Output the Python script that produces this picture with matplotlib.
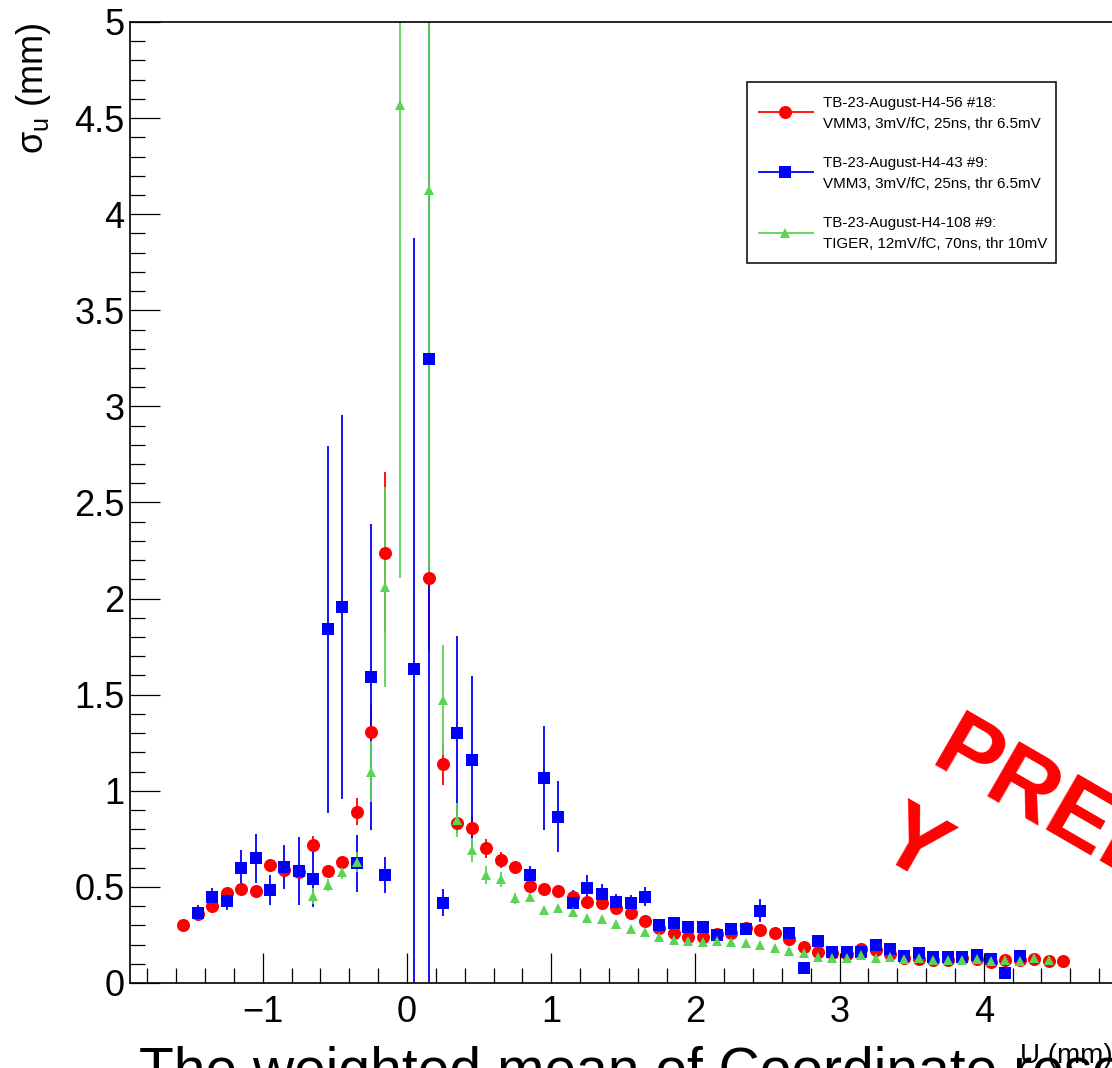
import numpy as np
import matplotlib
matplotlib.use('Agg')
import matplotlib.pyplot as plt
from matplotlib.ticker import MultipleLocator, FuncFormatter
from matplotlib.lines import Line2D
from matplotlib.patches import Rectangle

plt.rcParams['font.family'] = ['Liberation Sans', 'DejaVu Sans']
plt.rcParams['mathtext.fontset'] = 'custom'
plt.rcParams['mathtext.rm'] = 'Liberation Sans'
plt.rcParams['mathtext.it'] = 'Liberation Sans'

nan = np.nan

# bin centres of U (mm)
u_bins = [-1.55, -1.45, -1.35, -1.25, -1.15, -1.05, -0.95, -0.85, -0.75, -0.65,
          -0.55, -0.45, -0.35, -0.25, -0.15, -0.05, 0.05, 0.15, 0.25, 0.35,
          0.45, 0.55, 0.65, 0.75, 0.85, 0.95, 1.05, 1.15, 1.25, 1.35,
          1.45, 1.55, 1.65, 1.75, 1.85, 1.95, 2.05, 2.15, 2.25, 2.35,
          2.45, 2.55, 2.65, 2.75, 2.85, 2.95, 3.05, 3.15, 3.25, 3.35,
          3.45, 3.55, 3.65, 3.75, 3.85, 3.95, 4.05, 4.15, 4.25, 4.35,
          4.45, 4.55]

# TB-23-August-H4-56 #18 (VMM3)
sigma_56 = [0.302, 0.357, 0.400, 0.467, 0.487, 0.479, 0.614, 0.588, 0.579, 0.716,
            0.583, 0.628, 0.891, 1.304, 2.239, nan, nan, 2.109, 1.138, 0.834,
            0.808, 0.701, 0.640, 0.602, 0.505, 0.487, 0.479, 0.449, 0.423, 0.415,
            0.388, 0.366, 0.323, 0.288, 0.262, 0.241, 0.238, 0.253, 0.258, 0.284,
            0.276, 0.262, 0.227, 0.189, 0.160, 0.155, 0.150, 0.177, 0.172, 0.151,
            0.128, 0.125, 0.120, 0.120, 0.132, 0.123, 0.111, 0.120, 0.120, 0.123,
            0.116, 0.116]
err_56 = [0.01, 0.02, 0.02, 0.02, 0.02, 0.02, 0.02, 0.02, 0.02, 0.047,
          0.02, 0.03, 0.07, 0.145, 0.42, nan, nan, 0.38, 0.11, 0.055,
          0.055, 0.05, 0.04, 0.03, 0.025, 0.02, 0.02, 0.02, 0.02, 0.02,
          0.015, 0.015, 0.015, 0.01, 0.01, 0.01, 0.01, 0.01, 0.01, 0.01,
          0.01, 0.01, 0.01, 0.01, 0.01, 0.01, 0.01, 0.01, 0.01, 0.01,
          0.01, 0.01, 0.01, 0.01, 0.01, 0.01, 0.01, 0.01, 0.01, 0.01,
          0.01, 0.01]

# TB-23-August-H4-43 #9 (VMM3)
sigma_43 = [nan, 0.366, 0.446, 0.428, 0.600, 0.649, 0.484, 0.602, 0.583, 0.541,
            1.840, 1.955, 0.623, 1.591, 0.562, nan, 1.632, 3.245, 0.418, 1.302,
            1.160, nan, nan, nan, 0.562, 1.067, 0.865, 0.418, 0.493, 0.463,
            0.423, 0.418, 0.449, 0.302, 0.310, 0.290, 0.290, 0.250, 0.281, 0.281,
            0.376, nan, 0.262, 0.076, 0.219, 0.160, 0.163, 0.163, 0.198, 0.175,
            0.142, 0.154, 0.137, 0.137, 0.137, 0.146, 0.125, 0.050, 0.142, nan,
            nan, nan]
err_43 = [nan, 0.041, 0.05, 0.05, 0.09, 0.127, 0.076, 0.114, 0.175, 0.148,
          0.955, 1.0, 0.147, 0.797, 0.093, nan, 2.246, 3.4, 0.071, 0.505,
          0.437, nan, nan, nan, 0.045, 0.27, 0.185, 0.067, 0.07, 0.05,
          0.04, 0.04, 0.05, 0.02, 0.02, 0.02, 0.02, 0.02, 0.02, 0.02,
          0.06, nan, 0.02, 0.01, 0.01, 0.01, 0.01, 0.01, 0.01, 0.01,
          0.01, 0.01, 0.01, 0.01, 0.01, 0.01, 0.01, 0.01, 0.01, nan,
          nan, nan]

# TB-23-August-H4-108 #9 (TIGER)
sigma_108 = [nan, nan, nan, nan, nan, nan, nan, nan, nan, 0.453,
             0.510, 0.579, 0.631, 1.100, 2.059, 4.568, nan, 4.126, 1.472, 0.848,
             0.692, 0.562, 0.539, 0.440, 0.446, 0.380, 0.388, 0.371, 0.340, 0.331,
             0.307, 0.281, 0.267, 0.238, 0.224, 0.219, 0.215, 0.219, 0.212, 0.210,
             0.198, 0.180, 0.168, 0.158, 0.137, 0.128, 0.128, 0.146, 0.132, 0.133,
             0.123, 0.128, 0.120, 0.120, 0.120, 0.125, 0.114, 0.120, 0.114, 0.128,
             0.120, nan]
err_108 = [nan, nan, nan, nan, nan, nan, nan, nan, nan, 0.04,
           0.03, 0.04, 0.053, 0.16, 0.52, 2.46, nan, 2.02, 0.285, 0.09,
           0.065, 0.045, 0.04, 0.03, 0.02, 0.015, 0.015, 0.015, 0.015, 0.015,
           0.015, 0.015, 0.015, 0.015, 0.015, 0.015, 0.015, 0.015, 0.015, 0.015,
           0.015, 0.015, 0.015, 0.015, 0.015, 0.015, 0.015, 0.015, 0.015, 0.015,
           0.015, 0.015, 0.015, 0.015, 0.015, 0.015, 0.015, 0.015, 0.015, 0.015,
           0.015, nan]

run_labels = ['TB-23-August-H4-56 #18:\nVMM3, 3mV/fC, 25ns, thr 6.5mV',
              'TB-23-August-H4-43 #9:\nVMM3, 3mV/fC, 25ns, thr 6.5mV',
              'TB-23-August-H4-108 #9:\nTIGER, 12mV/fC, 70ns, thr 10mV']

RED = '#ff0000'
BLUE = '#0000ff'
GREEN = '#59d454'

W, H = 1112, 1068
fig = plt.figure(figsize=(W / 100, H / 100), dpi=100)


def fx(px):
    return px / W


def fy(py):
    return 1 - py / H


# frame: left edge at x=130px, 144.2 px per mm, y 0..5 between 983px and 22px
x_lo, x_hi = -1.921, 5.5
ax = fig.add_axes([fx(130), fy(983), (x_hi - x_lo) * 144.2 / W, fy(22) - fy(983)])
ax.set_xlim(x_lo, x_hi)
ax.set_ylim(0, 5)

styles = [(sigma_56, err_56, RED, 'o', 9.4),
          (sigma_43, err_43, BLUE, 's', 8.0),
          (sigma_108, err_108, GREEN, '^', 7.5)]
for vals, errs, col, mk, ms in styles:
    ax.errorbar(u_bins, vals, yerr=errs, fmt=mk, color=col, ms=ms, mew=0,
                elinewidth=1.3, capsize=2.6, capthick=1.3)

for s in ax.spines.values():
    s.set_linewidth(1.2)
ax.spines['right'].set_visible(False)

ax.xaxis.set_major_locator(MultipleLocator(1))
ax.xaxis.set_minor_locator(MultipleLocator(0.2))
ax.yaxis.set_major_locator(MultipleLocator(0.5))
ax.yaxis.set_minor_locator(MultipleLocator(0.1))
ax.xaxis.set_major_formatter(FuncFormatter(lambda v, p: f'{v:g}'.replace('-', '\u2212')))
ax.yaxis.set_major_formatter(FuncFormatter(lambda v, p: f'{v:g}'))
ax.tick_params(which='both', direction='in', top=False, right=False, width=0.9)
ax.tick_params(which='major', length=21.6, labelsize=26)
ax.tick_params(which='minor', length=10.8)
ax.tick_params(axis='y', pad=4)
ax.tick_params(axis='x', pad=9)

# axis titles
fig.text(fx(43), fy(23), r'$\sigma_{u}$ (mm)', rotation=90, rotation_mode='anchor',
         ha='right', va='baseline', fontsize=26)
fig.text(fx(1020), fy(1063), 'U (mm)', ha='left', va='baseline', fontsize=20)

# legend box
fig.add_artist(Rectangle((fx(747), fy(263)), fx(1056) - fx(747), fy(82) - fy(263),
                         transform=fig.transFigure, facecolor='white',
                         edgecolor='black', linewidth=1.1))
marker_y = [112, 172.3, 233.3]
text_base = [106.7, 166.7, 226.7]
for (vals, errs, col, mk, ms), my, tb, lab in zip(styles, marker_y, text_base, run_labels):
    fig.add_artist(Line2D([fx(759), fx(813)], [fy(my), fy(my)], color=col, lw=1.3,
                          transform=fig.transFigure))
    fig.add_artist(Line2D([fx(785)], [fy(my)], color=col, marker=mk, ms=ms, mew=0,
                          transform=fig.transFigure))
    line1, line2 = lab.split('\n')
    fig.text(fx(823), fy(tb), line1, ha='left', va='baseline', fontsize=10.9)
    fig.text(fx(823), fy(tb + 21.6), line2, ha='left', va='baseline', fontsize=10.9)

# watermark
fig.text(fx(928), fy(764.5), 'PRELIMINAR', rotation=-30, rotation_mode='anchor',
         ha='left', va='baseline', fontsize=67, fontweight='bold', color=RED)
fig.text(fx(873), fy(853), 'Y', rotation=-30, rotation_mode='anchor',
         ha='left', va='baseline', fontsize=67, fontweight='bold', color=RED)

# caption below the plot
fig.text(fx(139), fy(1088), 'The weighted mean of Coordinate resolution',
         ha='left', va='baseline', fontsize=41)

fig.savefig('out.png', dpi=100)
